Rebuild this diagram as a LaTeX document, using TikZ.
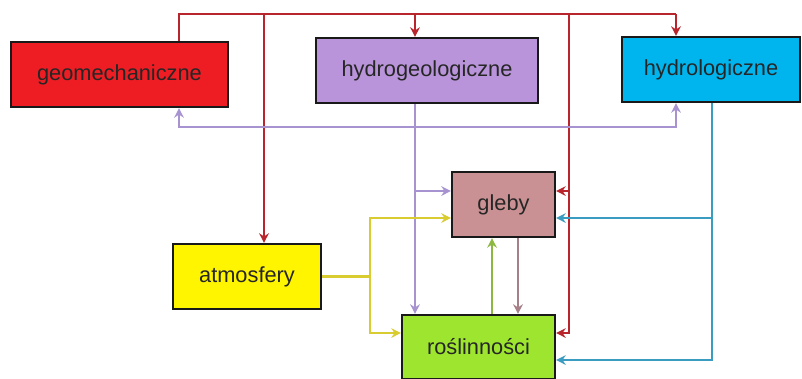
\documentclass[tikz,border=0pt]{standalone}
\usepackage{fontspec}
\setmainfont{Liberation Sans}
\usetikzlibrary{arrows.meta}

\definecolor{geored}{HTML}{EE1D23}
\definecolor{hgeopurple}{HTML}{B994DA}
\definecolor{hydcyan}{HTML}{00B4EE}
\definecolor{glebyrose}{HTML}{C99193}
\definecolor{atmyellow}{HTML}{FFF500}
\definecolor{roslgreen}{HTML}{9DE52E}
\definecolor{redln}{HTML}{B8252D}
\definecolor{purpln}{HTML}{A793CF}
\definecolor{blueln}{HTML}{3A9CC0}
\definecolor{yelln}{HTML}{D8CC30}
\definecolor{greenln}{HTML}{8CB842}
\definecolor{roseln}{HTML}{A67F88}

\tikzset{
  box/.style={draw=black!90, line width=1.5pt, inner sep=0pt, minimum height=1.625cm,
    font=\fontsize{15.5}{18}\selectfont, text=black!85},
  link/.style={line width=2pt, -{Stealth[length=2.4mm,width=2.4mm]}},
  plain/.style={line width=2pt}
}

\begin{document}
\begin{tikzpicture}[x=0.025cm,y=-0.025cm]
    \useasboundingbox (0,0) rectangle (802,378);

    % Boxes
    \node[box, fill=geored, minimum width=5.425cm] (geo) at (119.5,74.5) {geomechaniczne};
    \node[box, fill=hgeopurple, minimum width=5.55cm] (hgeo) at (427,70.5) {hydrogeologiczne};
    \node[box, fill=hydcyan, minimum width=4.45cm] (hyd) at (711,69.5) {hydrologiczne};
    \node[box, fill=glebyrose, minimum width=2.575cm] (gleby) at (503.5,204.5) {gleby};
    \node[box, fill=atmyellow, minimum width=3.7cm] (atm) at (247,276.5) {atmosfery};
    \node[box, fill=roslgreen, minimum width=3.825cm, minimum height=1.6cm] (rosl) at (478.5,347) {roślinności};

    % Bus points
    \coordinate (xg) at (179,14);
    \coordinate (xa) at (264,14);
    \coordinate (xh) at (415,14);
    \coordinate (xr) at (569,14);
    \coordinate (xy) at (676,14);
    \coordinate (xb) at (712,0);
    \coordinate (xj) at (370,0);
    \coordinate (pb) at (0,127);
    \coordinate (y1) at (0,191);
    \coordinate (y2) at (0,218);
    \coordinate (y3) at (0,333);
    \coordinate (y4) at (0,360);

    % Red: from geomechaniczne
    \draw[plain, redln] (geo.north -| xg) -- (xg) -- (xy);
    \draw[link, redln] (xa) -- (atm.north -| xa);
    \draw[link, redln] (xh) -- (hgeo.north -| xh);
    \draw[link, redln] (xy) -- (hyd.north -| xy);
    \draw[link, redln] (xr) |- (rosl.east |- y3);
    \draw[link, redln] (xr |- y1) -- (gleby.east |- y1);

    % Purple: from hydrogeologiczne
    \draw[link, purpln, {Stealth[length=2.4mm,width=2.4mm]}-{Stealth[length=2.4mm,width=2.4mm]}]
        (geo.south -| xg) -- (xg |- pb) -- (xy |- pb) -- (hyd.south -| xy);
    \draw[link, purpln] (hgeo.south -| xh) -- (rosl.north -| xh);
    \draw[link, purpln] (xh |- y1) -- (gleby.west |- y1);

    % Yellow: from atmosfery
    \draw[plain, yelln] (atm.east) -- (atm.east -| xj);
    \draw[link, yelln] (atm.east -| xj) |- (gleby.west |- y2);
    \draw[link, yelln] (atm.east -| xj) |- (rosl.west |- y3);

    % gleby <-> roslinnosci
    \draw[link, greenln] (rosl.north -| 492,0) -- (gleby.south -| 492,0);
    \draw[link, roseln] (gleby.south -| 518,0) -- (rosl.north -| 518,0);

    % Blue: from hydrologiczne
    \draw[link, blueln] (hyd.south -| xb) |- (rosl.east |- y4);
    \draw[link, blueln] (xb |- y2) -- (gleby.east |- y2);
\end{tikzpicture}
\end{document}
